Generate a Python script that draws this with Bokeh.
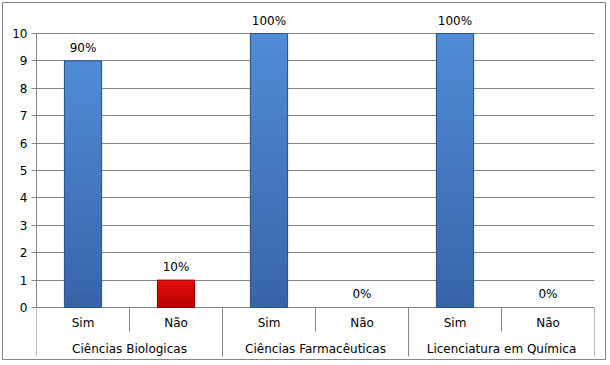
from bokeh.plotting import figure
from bokeh.models import Range1d, FixedTicker, ColumnDataSource
from bokeh.embed import file_html
from bokeh.resources import INLINE
from bokeh.core.properties import value

# ---- data ----
groups = ["Ciências Biologicas", "Ciências Farmacêuticas", "Licenciatura em Química"]
answers = ["Sim", "Não"]
sim_values = [9, 10, 10]
nao_values = [1, 0, 0]
sim_labels = ["90%", "100%", "100%"]
nao_labels = ["10%", "0%", "0%"]
y_ticks = list(range(0, 11))

FONT = "DejaVu Sans"
FS = "12px"
GRID = "#868686"

values = []
labels = []
kinds = []
for i in range(len(groups)):
    values += [sim_values[i], nao_values[i]]
    labels += [sim_labels[i], nao_labels[i]]
    kinds += answers
n = len(values)
xpos = [i + 0.5 for i in range(n)]  # slot centres on a 0..n scale

p = figure(width=604, height=358, x_range=Range1d(0, n),
           y_range=Range1d(-1.898, 11.022),
           output_backend="svg", toolbar_location=None,
           x_axis_location=None, min_border_left=33, min_border_right=13,
           min_border_top=2, min_border_bottom=2)
p.outline_line_color = None
p.styles = {"border": "1px solid #868686", "margin": "2px"}

# y axis
ax = p.yaxis[0]
ax.bounds = (0, 10)
ax.ticker = FixedTicker(ticks=y_ticks)
ax.axis_line_color = GRID
ax.major_tick_line_color = GRID
ax.major_tick_out = 5
ax.major_tick_in = 0
ax.minor_tick_line_color = None
ax.major_label_standoff = 4
ax.major_label_text_font = FONT
ax.major_label_text_font_size = FS
ax.major_label_text_color = "black"

p.xgrid.visible = False
p.ygrid.grid_line_color = GRID
p.ygrid.bounds = (0, 10)

# bars with a vertical gradient built from overlapping bands
def lerp(c1, c2, t):
    a = [int(c1[i:i + 2], 16) for i in (1, 3, 5)]
    b = [int(c2[i:i + 2], 16) for i in (1, 3, 5)]
    return "#%02x%02x%02x" % tuple(int(round(a[k] + (b[k] - a[k]) * t)) for k in range(3))

palette = {"Sim": ("#3865a9", "#508bd6", "#2c5288"),
           "Não": ("#b80000", "#e41010", "#8a0000")}
N = 30
W = 0.4
for kind in answers:
    xs = [x for x, k, v in zip(xpos, kinds, values) if k == kind and v > 0]
    vs = [v for k, v in zip(kinds, values) if k == kind and v > 0]
    lo, hi, edge = palette[kind]
    for i in range(N):
        t = i / (N - 1)
        src = ColumnDataSource(dict(x=xs, b=[v * i / N for v in vs], t=vs))
        p.vbar(x="x", bottom="b", top="t", width=W, source=src,
               fill_color=lerp(lo, hi, t), line_color=None)
    src = ColumnDataSource(dict(x=xs, t=vs))
    p.vbar(x="x", bottom=0, top="t", width=W, source=src,
           fill_color=None, line_color=edge, line_width=1)

# data labels
lsrc = ColumnDataSource(dict(x=xpos, y=values, t=labels))
p.text(x="x", y="y", text="t", source=lsrc, text_align="center",
       text_baseline="bottom", y_offset=-6, text_font=value(FONT),
       text_font_size=FS, text_color="black")

# category axis (drawn in the frame below zero)
sub_x = [i + 1 for i in range(0, n, 2)]
grp_x = [i for i in range(0, n + 1, 2)]
p.segment(x0=grp_x, x1=grp_x, y0=[0] * len(grp_x), y1=[-1.788] * len(grp_x),
          line_color=GRID, line_width=1)
p.segment(x0=sub_x, x1=sub_x, y0=[0] * len(sub_x), y1=[-0.876] * len(sub_x),
          line_color=GRID, line_width=1)

p.text(x=xpos, y=[-0.584] * n, text=kinds, text_align="center",
       text_baseline="middle", text_font=value(FONT), text_font_size=FS,
       text_color="black")
p.text(x=[i * 2 + 1 for i in range(len(groups))], y=[-1.533] * len(groups),
       text=groups, text_align="center",
       text_baseline="middle", text_font=value(FONT), text_font_size=FS,
       text_color="black")

open("out.html", "w").write(file_html(p, INLINE))
